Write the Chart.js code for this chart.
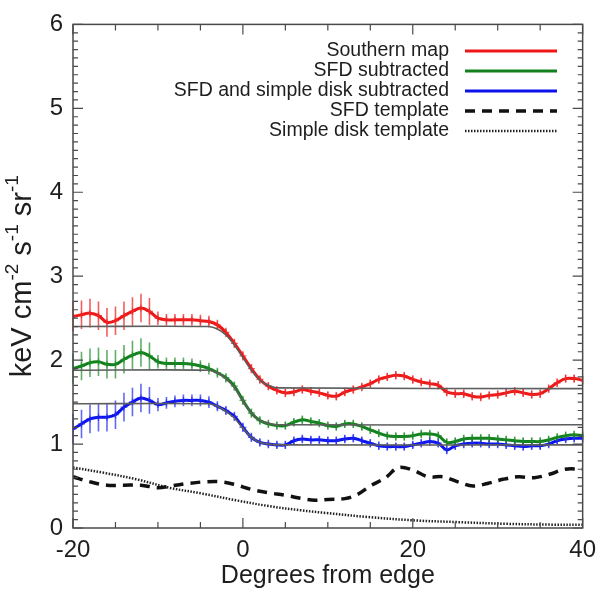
<!DOCTYPE html>
<html>
<head>
<meta charset="utf-8">
<script src="https://cdn.jsdelivr.net/npm/chart.js@4.4.1/dist/chart.umd.min.js"></script>
<style>
  html, body { margin: 0; padding: 0; background: #fff; }
  #wrap { width: 604px; height: 593px; }
</style>
</head>
<body>
<div id="wrap"><canvas id="profile" width="604" height="593"></canvas></div>
<script>
// degrees from the edge, one sample per degree
const degrees = [-20, -19, -18, -17, -16, -15, -14, -13, -12, -11, -10, -9, -8, -7, -6, -5, -4, -3, -2, -1,
  0, 1, 2, 3, 4, 5, 6, 7, 8, 9, 10, 11, 12, 13, 14, 15, 16, 17, 18, 19, 20,
  21, 22, 23, 24, 25, 26, 27, 28, 29, 30, 31, 32, 33, 34, 35, 36, 37, 38, 39, 40];

const southernMap = [2.52, 2.54, 2.56, 2.53, 2.45, 2.47, 2.53, 2.58, 2.62, 2.58, 2.50, 2.48, 2.48, 2.48, 2.48, 2.47, 2.46, 2.42, 2.33, 2.20,
  2.05, 1.90, 1.77, 1.69, 1.64, 1.61, 1.62, 1.65, 1.63, 1.61, 1.58, 1.57, 1.62, 1.65, 1.68, 1.72, 1.77, 1.80, 1.82, 1.81, 1.77,
  1.74, 1.72, 1.70, 1.62, 1.60, 1.60, 1.57, 1.56, 1.58, 1.59, 1.61, 1.63, 1.61, 1.59, 1.60, 1.66, 1.73, 1.78, 1.78, 1.76];

const sfdSubtracted = [1.90, 1.93, 1.97, 1.98, 1.95, 1.95, 2.01, 2.06, 2.09, 2.05, 1.98, 1.96, 1.96, 1.96, 1.95, 1.93, 1.90, 1.85, 1.79, 1.69,
  1.52, 1.37, 1.28, 1.24, 1.22, 1.22, 1.26, 1.29, 1.27, 1.25, 1.22, 1.21, 1.24, 1.24, 1.21, 1.17, 1.13, 1.10, 1.09, 1.09, 1.10,
  1.12, 1.12, 1.10, 1.02, 1.03, 1.06, 1.07, 1.07, 1.07, 1.06, 1.05, 1.04, 1.03, 1.03, 1.03, 1.05, 1.08, 1.10, 1.11, 1.10];

const diskSubtracted = [1.18, 1.24, 1.30, 1.32, 1.32, 1.35, 1.44, 1.50, 1.55, 1.52, 1.47, 1.49, 1.51, 1.52, 1.52, 1.52, 1.50, 1.45, 1.40, 1.33,
  1.20, 1.08, 1.02, 1.00, 0.99, 0.99, 1.04, 1.06, 1.05, 1.05, 1.04, 1.04, 1.06, 1.07, 1.04, 1.01, 0.98, 0.97, 0.97, 0.97, 0.99,
  1.01, 1.03, 1.01, 0.93, 0.98, 1.00, 1.01, 1.01, 1.00, 1.00, 0.99, 0.98, 0.97, 0.98, 0.98, 1.00, 1.04, 1.06, 1.07, 1.07];

// 1-sigma half widths, shared by the three profiles
const errBars = [0.18, 0.17, 0.17, 0.17, 0.17, 0.17, 0.17, 0.17, 0.17, 0.16, 0.08, 0.07, 0.07, 0.07, 0.07, 0.07, 0.07, 0.06, 0.055, 0.055,
  0.055, 0.055, 0.05, 0.05, 0.05, 0.05, 0.05, 0.05, 0.05, 0.05, 0.05, 0.05, 0.05, 0.05, 0.05, 0.05, 0.05, 0.05, 0.05, 0.05, 0.05,
  0.05, 0.05, 0.05, 0.05, 0.05, 0.05, 0.05, 0.05, 0.05, 0.05, 0.05, 0.05, 0.05, 0.05, 0.05, 0.05, 0.05, 0.05, 0.05, 0.05];

// step fits: flat inside, smooth drop across the edge, flat outside
const fitX = [-20, -4, -3, -2, -1, 0, 1, 2, 3, 4, 40];
const southernFit = [2.40, 2.40, 2.37, 2.30, 2.18, 2.03, 1.88, 1.76, 1.70, 1.67, 1.66];
const sfdFit = [1.88, 1.88, 1.85, 1.78, 1.67, 1.51, 1.37, 1.28, 1.25, 1.23, 1.23];
const diskFit = [1.48, 1.48, 1.45, 1.39, 1.31, 1.19, 1.08, 1.02, 1.00, 0.99, 0.99];

const sfdTemplateX = [-20, -18, -16, -14, -12, -10, -8.5, -6.5, -4.5, -2.5, -1, 1, 3, 5, 7, 8.5, 10, 12, 13.5, 15, 16.8, 18.3,
  20, 21.8, 23.6, 25.3, 27.1, 28.8, 30.6, 32.4, 34.3, 36.1, 37.9, 40];
const sfdTemplate = [0.61, 0.55, 0.51, 0.51, 0.51, 0.48, 0.50, 0.53, 0.55, 0.55, 0.52, 0.46, 0.42, 0.39, 0.35, 0.33, 0.34, 0.35, 0.40, 0.50, 0.60, 0.72,
  0.69, 0.61, 0.61, 0.55, 0.50, 0.53, 0.58, 0.61, 0.60, 0.64, 0.70, 0.70];

const diskTemplateX = [-20, -16.5, -12.5, -8.7, -4.8, -0.8, 3.1, 6.9, 9.7, 14.8, 20.3, 25.3, 31, 36.4, 40];
const diskTemplate = [0.72, 0.66, 0.58, 0.48, 0.41, 0.33, 0.26, 0.21, 0.18, 0.13, 0.09, 0.07, 0.05, 0.04, 0.04];

const xTickValues = [-20, 0, 20, 40];
const yTickValues = [0, 1, 2, 3, 4, 5, 6];

// y title pieces: [text, superscript?]
const yTitleParts = [["keV cm", false], ["-2", true], [" s", false], ["-1", true], [" sr", false], ["-1", true]];

const FONT = "'Liberation Sans', Arial, sans-serif";
const pts = (xs, ys) => xs.map((x, i) => ({ x: x, y: ys[i] }));

const RED = "rgb(238, 22, 22)";
const GREEN = "rgb(18, 128, 28)";
const BLUE = "rgb(12, 18, 235)";
const FIT = "#5e5e5e";

function profile(label, ys, color, barColor) {
  return {
    label: label,
    data: pts(degrees, ys),
    borderColor: color,
    borderWidth: 3,
    pointStyle: "cross",
    pointRadius: 3.5,
    pointBorderWidth: 1.3,
    pointBorderColor: barColor,
    tension: 0.35,
    errorBars: errBars,
    barColor: barColor,
    inLegend: true,
    order: 2,
  };
}

function fitLine(ys) {
  return {
    label: "fit",
    data: pts(fitX, ys),
    borderColor: FIT,
    borderWidth: 1.6,
    pointRadius: 0,
    tension: 0.3,
    order: 1,
  };
}

// vertical error bars drawn under the profile lines
const errorBarPlugin = {
  id: "errorBars",
  beforeDatasetsDraw(chart) {
    const { ctx, scales } = chart;
    ctx.save();
    chart.data.datasets.forEach((ds) => {
      if (!ds.errorBars) return;
      ctx.strokeStyle = ds.barColor;
      ctx.lineWidth = 1.6;
      ctx.beginPath();
      ds.data.forEach((p, i) => {
        const e = ds.errorBars[i];
        const x = scales.x.getPixelForValue(p.x);
        ctx.moveTo(x, scales.y.getPixelForValue(p.y - e));
        ctx.lineTo(x, scales.y.getPixelForValue(p.y + e));
      });
      ctx.stroke();
    });
    ctx.restore();
  },
};

// box around the plot with inward ticks on all four sides
const framePlugin = {
  id: "frame",
  afterDraw(chart) {
    const { ctx, chartArea: a, scales } = chart;
    ctx.save();
    ctx.strokeStyle = "#4a4a4a";
    ctx.lineWidth = 1.5;
    ctx.strokeRect(a.left, a.top, a.right - a.left, a.bottom - a.top);
    ctx.beginPath();
    for (let v = -20; v <= 40; v += 5) {
      const x = scales.x.getPixelForValue(v);
      const len = v % 20 === 0 ? 10 : 6;
      ctx.moveTo(x, a.bottom); ctx.lineTo(x, a.bottom - len);
      ctx.moveTo(x, a.top); ctx.lineTo(x, a.top + len);
    }
    for (let k = 0; k <= 60; k++) {
      const y = scales.y.getPixelForValue(k / 10);
      const len = k % 10 === 0 ? 10 : 5;
      ctx.moveTo(a.left, y); ctx.lineTo(a.left + len, y);
      ctx.moveTo(a.right, y); ctx.lineTo(a.right - len, y);
    }
    ctx.lineWidth = 1.2;
    ctx.stroke();
    ctx.restore();
  },
};

// rotated y title with real superscripts
const yTitlePlugin = {
  id: "yTitle",
  afterDraw(chart) {
    const { ctx, chartArea: a } = chart;
    const main = "29px " + FONT;
    const sup = "19px " + FONT;
    ctx.save();
    let total = 0;
    yTitleParts.forEach(([t, s]) => { ctx.font = s ? sup : main; total += ctx.measureText(t).width; });
    ctx.translate(22, (a.top + a.bottom) / 2);
    ctx.rotate(-Math.PI / 2);
    ctx.fillStyle = "#1e1e1e";
    ctx.textBaseline = "middle";
    ctx.textAlign = "left";
    let x = -total / 2;
    yTitleParts.forEach(([t, s]) => {
      ctx.font = s ? sup : main;
      ctx.fillText(t, x, s ? -9 : 1);
      x += ctx.measureText(t).width;
    });
    ctx.restore();
  },
};

// legend with the text on the left and the line sample on the right
const cornerLegendPlugin = {
  id: "cornerLegend",
  afterDraw(chart) {
    const ctx = chart.ctx;
    const rows = chart.data.datasets.filter((d) => d.inLegend);
    ctx.save();
    ctx.font = "19.5px " + FONT;
    ctx.textAlign = "right";
    ctx.textBaseline = "middle";
    rows.forEach((ds, i) => {
      const y = 51 + i * 20;
      ctx.fillStyle = "#1e1e1e";
      ctx.fillText(ds.label, 449, y);
      ctx.strokeStyle = ds.borderColor;
      ctx.lineWidth = ds.legendWidth || 3;
      ctx.setLineDash(ds.borderDash || []);
      ctx.beginPath();
      ctx.moveTo(465, y);
      ctx.lineTo(557, y);
      ctx.stroke();
    });
    ctx.restore();
  },
};

const chart = new Chart(document.getElementById("profile"), {
  type: "line",
  data: {
    datasets: [
      profile("Southern map", southernMap, RED, "rgba(238, 40, 40, 0.75)"),
      profile("SFD subtracted", sfdSubtracted, GREEN, "rgba(30, 140, 40, 0.7)"),
      profile("SFD and simple disk subtracted", diskSubtracted, BLUE, "rgba(30, 40, 240, 0.7)"),
      {
        label: "SFD template",
        data: pts(sfdTemplateX, sfdTemplate),
        borderColor: "#111",
        borderWidth: 3.5,
        borderDash: [10, 7],
        legendWidth: 3.5,
        pointRadius: 0,
        tension: 0.35,
        inLegend: true,
        order: 3,
      },
      {
        label: "Simple disk template",
        data: pts(diskTemplateX, diskTemplate),
        borderColor: "#222",
        borderWidth: 2.5,
        borderDash: [1.5, 1.5],
        legendWidth: 2.5,
        pointRadius: 0,
        tension: 0.35,
        inLegend: true,
        order: 3,
      },
      fitLine(southernFit),
      fitLine(sfdFit),
      fitLine(diskFit),
    ],
  },
  options: {
    responsive: false,
    animation: false,
    devicePixelRatio: 1,
    layout: { padding: { top: 14, right: 19, left: 0, bottom: 0 } },
    plugins: {
      legend: { display: false },
      tooltip: { enabled: false },
    },
    scales: {
      x: {
        type: "linear",
        min: -20,
        max: 40,
        afterFit: (s) => { s.height = 65; },
        afterBuildTicks: (s) => { s.ticks = xTickValues.map((v) => ({ value: v })); },
        grid: { display: false, drawTicks: false },
        border: { display: false },
        ticks: {
          padding: 8,
          maxRotation: 0,
          color: "#1e1e1e",
          font: { family: FONT, size: 24 },
        },
        title: {
          display: true,
          text: "Degrees from edge",
          color: "#1e1e1e",
          padding: { top: 0, bottom: 2 },
          font: { family: FONT, size: 25 },
        },
      },
      y: {
        min: 0,
        max: 6,
        afterFit: (s) => { s.width = 73; },
        afterBuildTicks: (s) => { s.ticks = yTickValues.map((v) => ({ value: v })); },
        grid: { display: false, drawTicks: false },
        border: { display: false },
        ticks: {
          padding: 10,
          color: "#1e1e1e",
          font: { family: FONT, size: 24 },
        },
      },
    },
  },
  plugins: [errorBarPlugin, framePlugin, yTitlePlugin, cornerLegendPlugin],
});
</script>
</body>
</html>
